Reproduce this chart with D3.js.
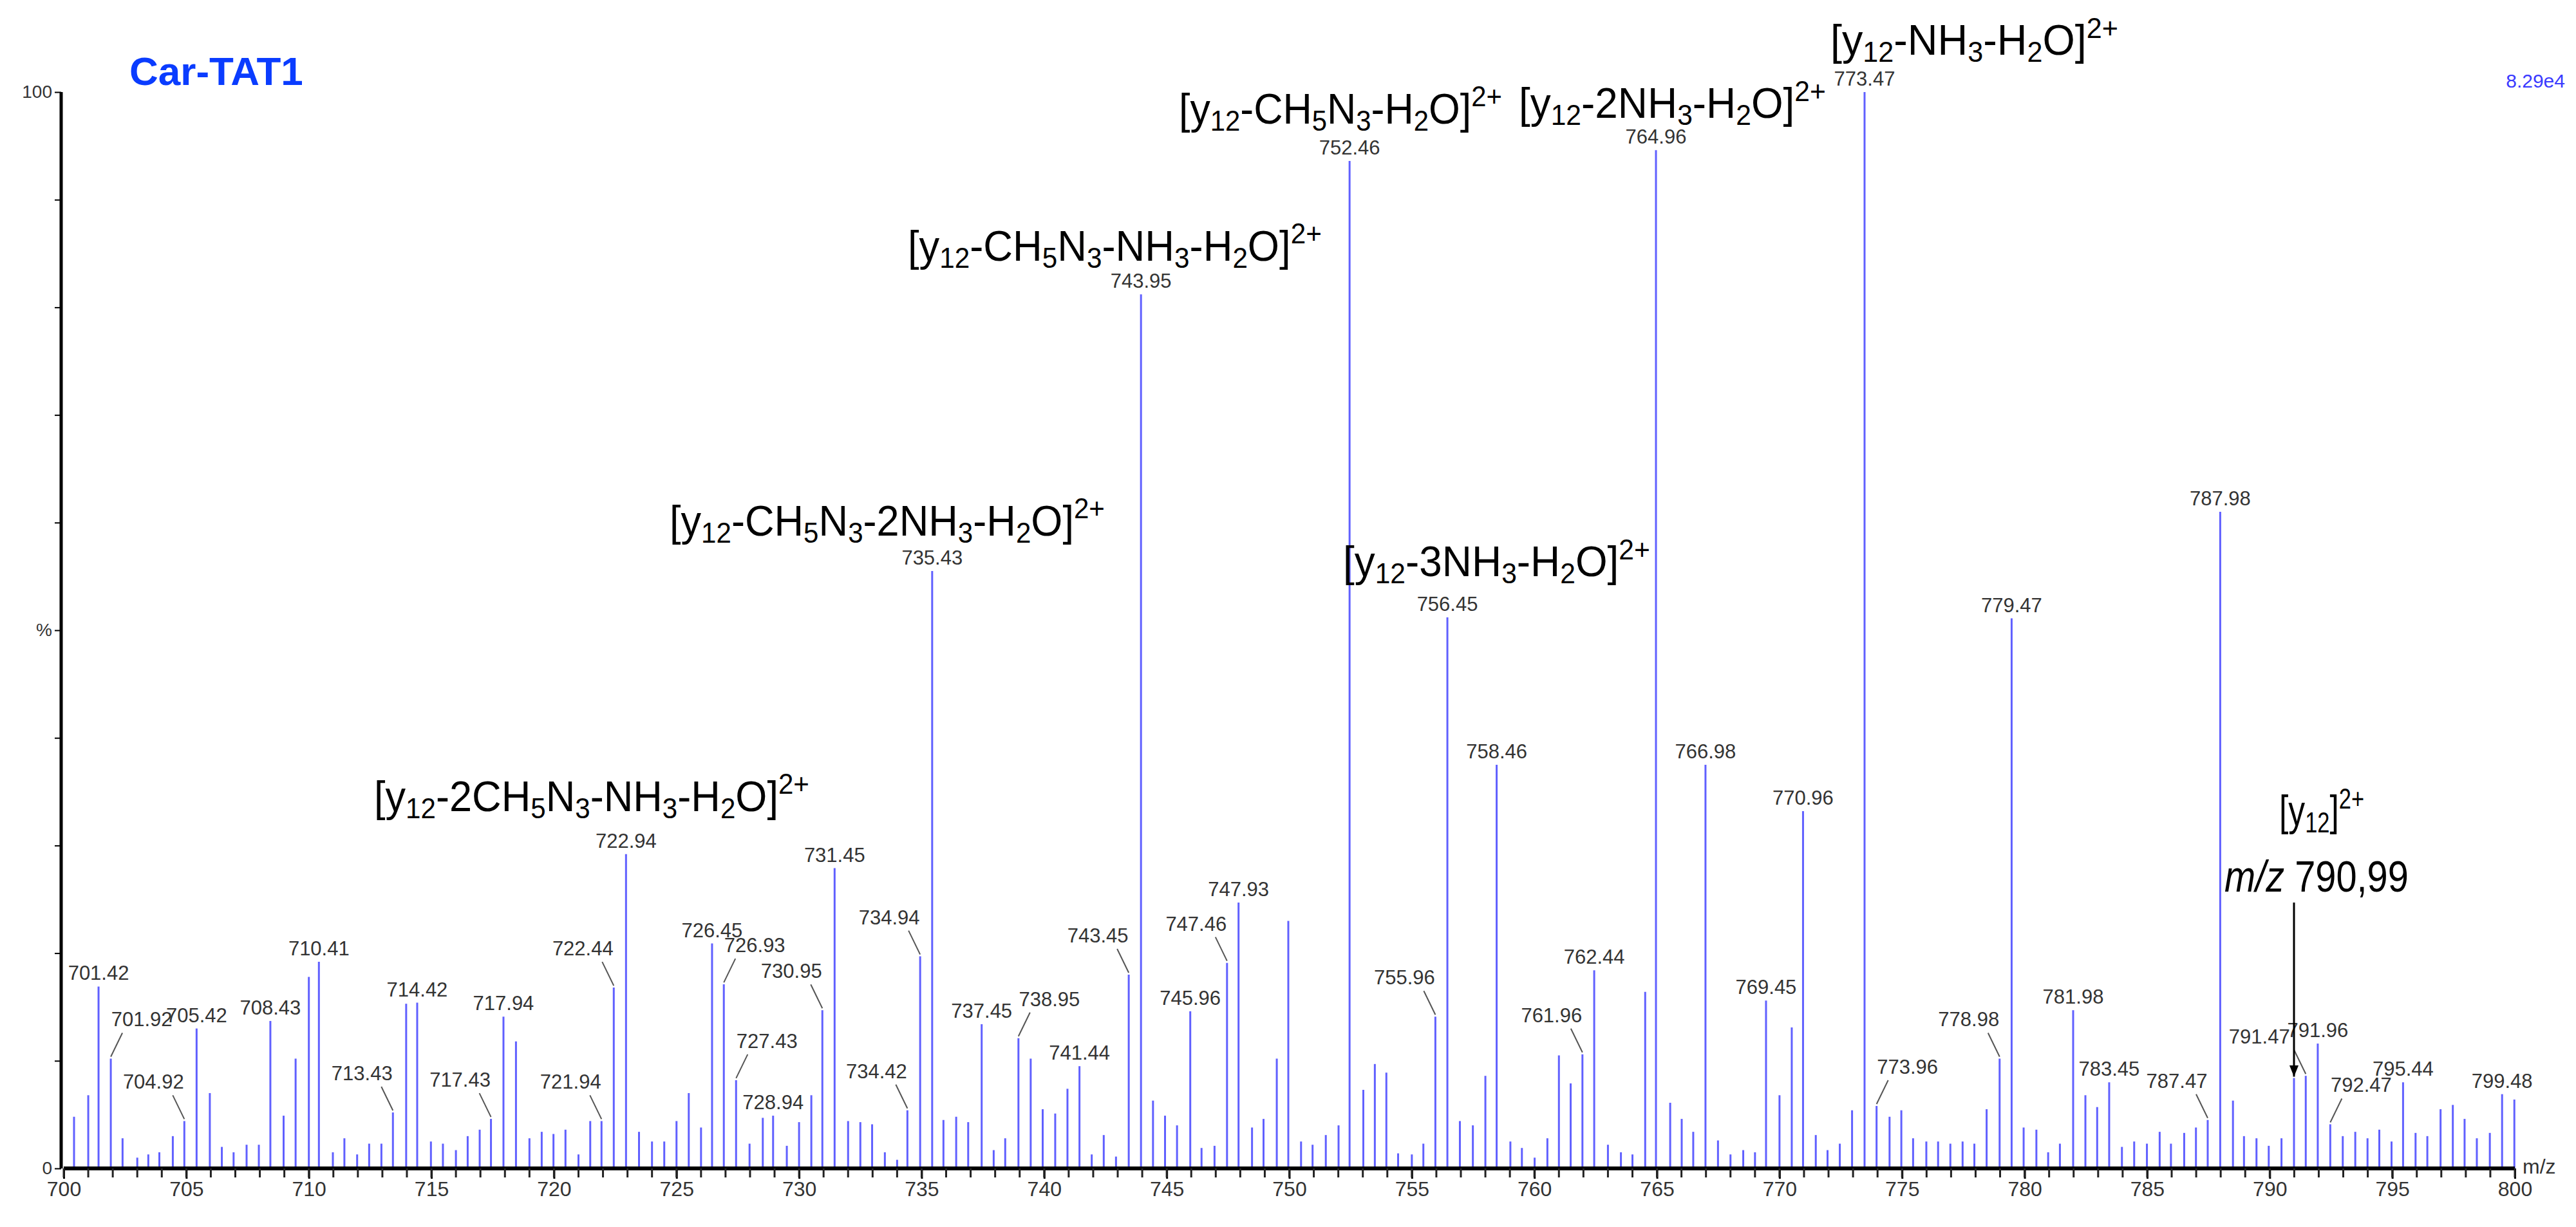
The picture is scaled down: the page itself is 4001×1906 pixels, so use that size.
<!DOCTYPE html>
<meta charset="utf-8">
<html>
<head>
<style>
  body { margin: 0; background: #fff; }
  text { font-family: "Liberation Sans", Arial, sans-serif; }
</style>
<script src="https://cdnjs.cloudflare.com/ajax/libs/d3/7.8.5/d3.min.js"></script>
</head>
<body>
<script>
// peaks: m/z and relative intensity (%)
var peakMz = [700.42,701.0,701.42,701.92,702.4,703.0,703.45,703.9,704.45,704.92,705.42,705.96,706.45,706.93,707.46,707.96,708.43,708.97,709.46,710.0,
  710.41,710.98,711.45,711.97,712.46,712.96,713.43,713.97,714.42,714.98,715.47,716.0,716.48,716.97,717.43,717.94,718.45,719.0,719.5,719.98,
  720.47,721.0,721.48,721.94,722.44,722.94,723.47,724.0,724.5,725.0,725.5,726.0,726.45,726.93,727.43,727.98,728.52,728.94,729.5,730.0,
  730.5,730.95,731.45,732.0,732.5,732.98,733.5,734.0,734.42,734.94,735.43,735.89,736.41,736.9,737.45,737.94,738.41,738.95,739.45,739.94,
  740.45,740.95,741.44,741.94,742.43,742.93,743.45,743.95,744.44,744.93,745.42,745.96,746.42,746.95,747.46,747.93,748.48,748.95,749.49,749.96,
  750.48,750.95,751.49,752.01,752.46,753.02,753.49,753.96,754.44,755.0,755.47,755.96,756.45,756.96,757.49,758.0,758.46,759.02,759.49,760.01,
  760.53,761.0,761.48,761.96,762.44,763.0,763.53,764.0,764.52,764.96,765.54,766.01,766.48,766.98,767.49,768.0,768.52,769.0,769.45,770.0,
  770.5,770.96,771.48,771.96,772.46,772.96,773.47,773.96,774.49,774.97,775.45,775.99,776.47,776.97,777.47,777.95,778.45,778.98,779.47,779.96,
  780.48,780.96,781.44,781.98,782.48,782.96,783.45,783.97,784.47,784.99,785.51,785.97,786.51,786.99,787.47,787.98,788.5,788.95,789.46,789.96,
  790.48,790.99,791.47,791.96,792.47,792.98,793.49,793.99,794.47,794.97,795.44,795.95,796.43,796.97,797.47,797.95,798.45,798.98,799.48,799.98];
var peakInt = [4.8,6.8,16.9,10.2,2.8,1.0,1.3,1.5,3.0,4.4,13.0,7.0,2.0,1.5,2.2,2.2,13.7,4.9,10.2,17.8,
  19.2,1.5,2.8,1.3,2.3,2.3,5.2,15.3,15.4,2.5,2.3,1.7,3.0,3.6,4.6,14.1,11.8,2.8,3.4,3.2,
  3.6,1.3,4.4,4.4,16.8,29.2,3.4,2.5,2.5,4.4,7.0,3.8,20.9,17.1,8.2,2.3,4.7,4.9,2.1,4.3,
  6.8,14.7,27.9,4.4,4.3,4.1,1.5,0.8,5.4,19.7,55.5,4.5,4.8,4.3,13.4,1.7,2.8,12.1,10.2,5.5,
  5.1,7.4,9.5,1.3,3.1,1.1,18.0,81.2,6.3,4.9,4.0,14.6,1.9,2.1,19.1,24.7,3.8,4.6,10.2,23.0,
  2.5,2.2,3.1,4.0,93.6,7.3,9.7,8.9,1.4,1.3,2.3,14.1,51.2,4.4,4.0,8.6,37.5,2.5,1.9,1.0,
  2.8,10.5,7.9,10.6,18.4,2.2,1.5,1.3,16.4,94.6,6.1,4.6,3.4,37.5,2.6,1.3,1.7,1.5,15.6,6.8,
  13.1,33.2,3.1,1.7,2.3,5.4,100,5.8,4.8,5.4,2.8,2.5,2.5,2.3,2.5,2.3,5.5,10.2,51.1,3.8,
  3.6,1.5,2.3,14.7,6.8,5.7,8.0,2.0,2.5,2.3,3.4,2.3,3.3,3.8,4.5,61.0,6.3,3.0,2.8,2.1,
  2.8,8.4,8.6,11.6,4.1,3.0,3.4,2.8,3.6,2.5,8.0,3.3,3.0,5.5,5.9,4.6,2.8,3.3,6.9,6.4];

// labelled peaks and which way the label leans (0 above, <0 left, >0 right)
var labelMz = [701.42,701.92,704.92,705.42,708.43,710.41,713.43,714.42,717.43,717.94,721.94,722.44,722.94,726.45,726.93,727.43,728.94,730.95,731.45,
  734.42,734.94,735.43,737.45,738.95,741.44,743.45,743.95,745.96,747.46,747.93,752.46,755.96,756.45,758.46,761.96,762.44,764.96,766.98,769.45,
  770.96,773.47,773.96,778.98,779.47,781.98,783.45,787.47,787.98,791.47,791.96,792.47,795.44,799.48];
var labelSide = [0,1,-1,0,0,0,-1,0,-1,0,-1,-1,0,0,1,1,0,-1,0,
  -1,-1,0,0,1,0,-1,0,0,-1,0,0,-1,0,0,-1,0,0,0,0,
  0,0,1,-1,0,0,0,-1,0,-1.5,0,1,0,0];

var ionText = ["[y_{12}-NH_{3}-H_{2}O]^{2+}", "[y_{12}-2NH_{3}-H_{2}O]^{2+}", "[y_{12}-CH_{5}N_{3}-H_{2}O]^{2+}",
  "[y_{12}-CH_{5}N_{3}-NH_{3}-H_{2}O]^{2+}", "[y_{12}-CH_{5}N_{3}-2NH_{3}-H_{2}O]^{2+}", "[y_{12}-3NH_{3}-H_{2}O]^{2+}",
  "[y_{12}-2CH_{5}N_{3}-NH_{3}-H_{2}O]^{2+}", "[y_{12}]^{2+}"];
var ionPos = [[2843,85,447],[2359,183,477],[1831,192,502],[1410,405,643],[1040,832,676],[2086,895,477],[581,1260,676],[3540,1282,132]];

var xTicks = d3.range(700, 801, 5);
var yTicks = d3.range(0, 101, 10);

var W = 4001, H = 1906;
var svg = d3.select("body").append("svg").attr("width", W).attr("height", H);

var x = d3.scaleLinear().domain([700, 800]).range([99, 3906]);
var y = d3.scaleLinear().domain([0, 100]).range([1815, 143]);

// peaks
svg.append("g").selectAll("line").data(peakMz).enter().append("line")
  .attr("x1", function(d){ return x(d); }).attr("x2", function(d){ return x(d); })
  .attr("y1", y(0)).attr("y2", function(d, i){ return y(peakInt[i]); })
  .attr("stroke", "#6060ff").attr("stroke-width", 3);

// x axis
var xa = svg.append("g").attr("transform", "translate(0," + y(0) + ")")
  .call(d3.axisBottom(x).tickValues(xTicks).tickSize(16).tickPadding(4).tickFormat(d3.format("d")));
xa.select(".domain").attr("stroke-width", 6).attr("d", "M" + x(700) + ",0H" + x(800));
xa.selectAll(".tick line").attr("stroke-width", 3);
xa.selectAll("text").attr("font-size", 32).attr("fill", "#333");
svg.append("g").selectAll("line").data(d3.range(700, 801, 1)).enter().append("line")
  .attr("x1", function(d){ return x(d); }).attr("x2", function(d){ return x(d); })
  .attr("y1", y(0)).attr("y2", y(0) + 14).attr("stroke", "#222").attr("stroke-width", 3);
svg.append("text").attr("x", x(800) + 12).attr("y", y(0) + 8).attr("font-size", 32).attr("fill", "#333").text("m/z");

// y axis
var ya = svg.append("g").attr("transform", "translate(95,0)")
  .call(d3.axisLeft(y).tickValues(yTicks).tickSize(10).tickPadding(4)
    .tickFormat(function(d){ return d == 0 || d == 100 ? d : (d == 50 ? "%" : ""); }));
ya.select(".domain").attr("stroke-width", 5).attr("d", "M0," + y(100) + "V" + y(0));
ya.selectAll(".tick line").attr("stroke-width", 2);
ya.selectAll("text").attr("font-size", 28).attr("fill", "#333");

// title and scale
svg.append("text").attr("x", 201).attr("y", 132).attr("font-family", "DejaVu Sans").attr("font-weight", "bold")
  .attr("font-size", 62).attr("fill", "#0a3cff").text("Car-TAT1");
svg.append("text").attr("x", 3984).attr("y", 136).attr("text-anchor", "end").attr("font-size", 30)
  .attr("fill", "#3a3aff").text("8.29e4");

// peak labels
var lab = svg.append("g");
labelMz.forEach(function(m, k){
  var i = peakMz.indexOf(m), px = x(m), py = y(peakInt[i]), s = labelSide[k];
  var lx = px + s * 48, ly = s == 0 ? py - 10 : py - 50;
  if (s != 0) {
    lab.append("line").attr("x1", px).attr("y1", py - 3).attr("x2", px + Math.sign(s) * 18).attr("y2", py - 40)
      .attr("stroke", "#555").attr("stroke-width", 2);
  }
  lab.append("text").attr("x", lx).attr("y", ly).attr("text-anchor", "middle")
    .attr("font-size", 31).attr("fill", "#333").text(m.toFixed(2));
});

// ion annotations, squeezed horizontally like a narrow face
function richText(g, s) {
  var t = g.append("text").attr("font-family", "'Liberation Sans Narrow', 'Open Sans', sans-serif").attr("font-size", 66).attr("fill", "#000");
  var re = /([_^])\{([^}]*)\}|([^_^]+)/g, mm;
  while ((mm = re.exec(s)) !== null) {
    if (mm[3]) t.append("tspan").text(mm[3]);
    else t.append("tspan").attr("font-size", 44).attr("baseline-shift", mm[1] == "_" ? "-25%" : "60%").text(mm[2]);
  }
  return t;
}
ionText.forEach(function(s, k){
  var g = svg.append("g");
  var t = richText(g, s);
  var w = t.node().getBBox().width;
  g.attr("transform", "translate(" + ionPos[k][0] + "," + ionPos[k][1] + ") scale(" + (ionPos[k][2] / w) + ",1)");
});

// precursor note with arrow
var note = svg.append("g").attr("transform", "translate(3455,1385) scale(0.85,1)")
  .append("text").attr("font-family", "'Liberation Sans Narrow', 'Open Sans', sans-serif").attr("font-size", 68);
note.append("tspan").attr("font-style", "italic").text("m/z");
note.append("tspan").text(" 790,99");
svg.append("defs").append("marker").attr("id", "ah").attr("viewBox", "0 0 10 10").attr("refX", 10).attr("refY", 5)
  .attr("markerWidth", 6).attr("markerHeight", 8).attr("orient", "auto")
  .append("path").attr("d", "M0,1L10,5L0,9Z").attr("fill", "#000");
svg.append("line").attr("x1", x(790.99)).attr("x2", x(790.99)).attr("y1", 1402).attr("y2", y(8.4) - 2)
  .attr("stroke", "#000").attr("stroke-width", 3).attr("marker-end", "url(#ah)");
</script>
</body>
</html>
